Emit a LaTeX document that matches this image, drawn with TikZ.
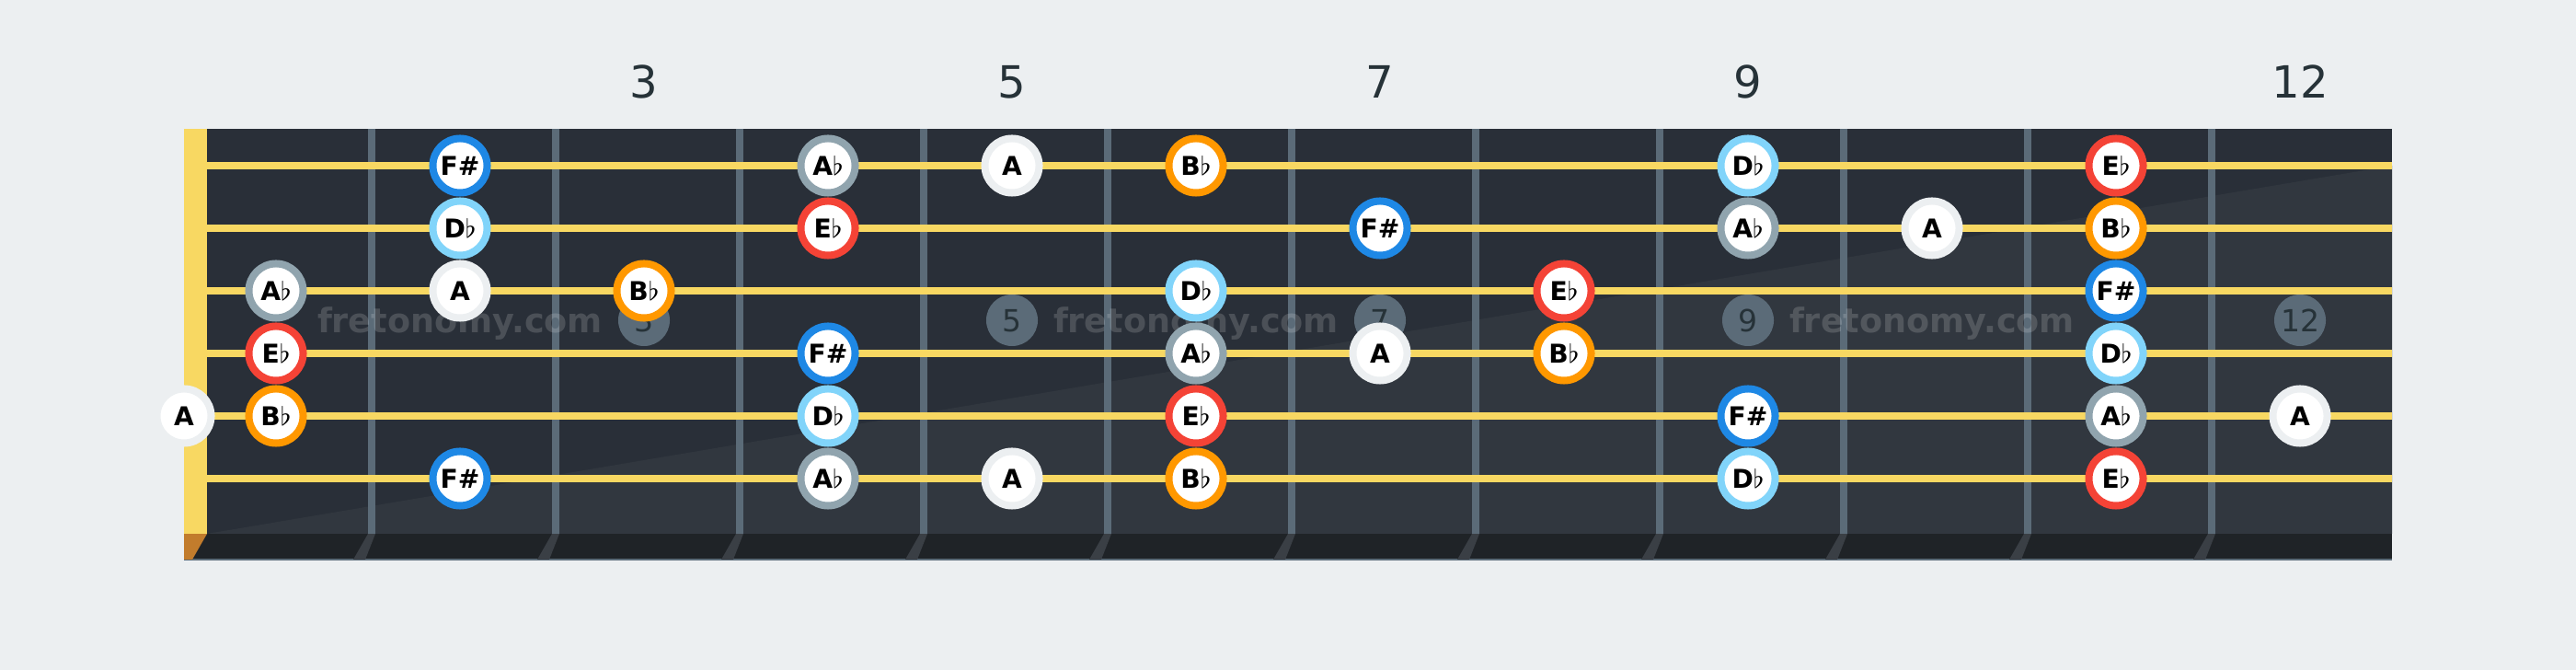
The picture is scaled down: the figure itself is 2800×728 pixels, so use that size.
\documentclass[tikz,border=0pt]{standalone}
\usepackage{fontspec}
\setmainfont{DejaVu Sans}
\usepackage{xcolor}

\definecolor{bg}{HTML}{ECEFF1}
\definecolor{board}{HTML}{292F38}
\definecolor{boardlight}{HTML}{31373F}
\definecolor{strip}{HTML}{1F2327}
\definecolor{fretwire}{HTML}{5B6B78}
\definecolor{fretshade}{HTML}{3A3F45}
\definecolor{nut}{HTML}{F8D862}
\definecolor{nutshade}{HTML}{C27C2C}
\definecolor{numdark}{HTML}{263238}
\definecolor{cfsharp}{HTML}{1E88E5}
\definecolor{cdflat}{HTML}{81D4FA}
\definecolor{caflat}{HTML}{90A4AE}
\definecolor{cnatA}{HTML}{ECEFF1}
\definecolor{cbflat}{HTML}{FF9800}
\definecolor{ceflat}{HTML}{F44336}

\newcommand{\fl}{\ensuremath{\flat}}

\begin{document}
\begin{tikzpicture}[x=0.01cm,y=-0.01cm,
  note/.style={circle,draw,line width=0.08cm,fill=white,minimum size=0.59cm,
    text height=5.8pt,text depth=0pt,font=\fontsize{8}{9}\selectfont\bfseries},
  fsharp/.style={note,draw=cfsharp},
  dflat/.style={note,draw=cdflat},
  aflat/.style={note,draw=caflat},
  natA/.style={note,draw=cnatA},
  bflat/.style={note,draw=cbflat},
  eflat/.style={note,draw=ceflat},
  marker/.style={circle,fill=fretwire,minimum size=0.56cm,text=numdark,
    text height=6.9pt,text depth=0pt,font=\fontsize{9.4}{10}\selectfont},
  fretnum/.style={anchor=base,text=numdark,font=\fontsize{13.7}{15}\selectfont},
  watermark/.style={anchor=base,text=white,text opacity=0.16,font=\fontsize{10.4}{12}\selectfont\bfseries}]
\tikzstyle{every node}+=[inner sep=0pt]
\useasboundingbox (0,0) rectangle (2800,728);
\fill [bg] (0,0) rectangle (2800,728);
% board
\fill [board] (200,140) rectangle (2600,580);
\fill [boardlight] (225,580) -- (2600,180) -- (2600,580) -- cycle;
\fill [strip] (200,580) rectangle (2600,608);
\fill [fretwire] (200,607) rectangle (2600,609);
% fret shadows on the edge
\fill [fretshade] (400,580) -- (408,580) -- (397,608) -- (384,608) -- cycle;
\fill [fretshade] (600,580) -- (608,580) -- (597,608) -- (584,608) -- cycle;
\fill [fretshade] (800,580) -- (808,580) -- (797,608) -- (784,608) -- cycle;
\fill [fretshade] (1000,580) -- (1008,580) -- (997,608) -- (984,608) -- cycle;
\fill [fretshade] (1200,580) -- (1208,580) -- (1197,608) -- (1184,608) -- cycle;
\fill [fretshade] (1400,580) -- (1408,580) -- (1397,608) -- (1384,608) -- cycle;
\fill [fretshade] (1600,580) -- (1608,580) -- (1597,608) -- (1584,608) -- cycle;
\fill [fretshade] (1800,580) -- (1808,580) -- (1797,608) -- (1784,608) -- cycle;
\fill [fretshade] (2000,580) -- (2008,580) -- (1997,608) -- (1984,608) -- cycle;
\fill [fretshade] (2200,580) -- (2208,580) -- (2197,608) -- (2184,608) -- cycle;
\fill [fretshade] (2400,580) -- (2408,580) -- (2397,608) -- (2384,608) -- cycle;
\fill [nutshade] (200,580) -- (225,580) -- (209,608) -- (200,608) -- cycle;
% nut and frets
\fill [nut] (200,140) rectangle (225,580);
\fill [fretwire] (400,140) rectangle (408,580);
\fill [fretwire] (600,140) rectangle (608,580);
\fill [fretwire] (800,140) rectangle (808,580);
\fill [fretwire] (1000,140) rectangle (1008,580);
\fill [fretwire] (1200,140) rectangle (1208,580);
\fill [fretwire] (1400,140) rectangle (1408,580);
\fill [fretwire] (1600,140) rectangle (1608,580);
\fill [fretwire] (1800,140) rectangle (1808,580);
\fill [fretwire] (2000,140) rectangle (2008,580);
\fill [fretwire] (2200,140) rectangle (2208,580);
\fill [fretwire] (2400,140) rectangle (2408,580);
% inlays
\node [marker] (m3) at (700,348) {3};
\node [marker] (m5) at (1100,348) {5};
\node [marker] (m7) at (1500,348) {7};
\node [marker] (m9) at (1900,348) {9};
\node [marker] (m12) at (2500,348) {12};
\node [watermark] (w1) at (500,362) {fretonomy.com};
\node [watermark] (w2) at (1300,362) {fretonomy.com};
\node [watermark] (w3) at (2100,362) {fretonomy.com};
% strings
\fill [nut] (225,176) rectangle (2600,184);
\fill [nut] (225,244) rectangle (2600,252);
\fill [nut] (225,312) rectangle (2600,320);
\fill [nut] (225,380) rectangle (2600,388);
\fill [nut] (225,448) rectangle (2600,456);
\fill [nut] (225,516) rectangle (2600,524);
% fret numbers
\node [fretnum] (t3) at (700,107) {3};
\node [fretnum] (t5) at (1100,107) {5};
\node [fretnum] (t7) at (1500,107) {7};
\node [fretnum] (t9) at (1900,107) {9};
\node [fretnum] (t12) at (2500,107) {12};
% string 1
\node [fsharp] (s1f2) at (500,180) {F\#};
\node [aflat] (s1f4) at (900,180) {A\fl};
\node [natA] (s1f5) at (1100,180) {A};
\node [bflat] (s1f6) at (1300,180) {B\fl};
\node [dflat] (s1f9) at (1900,180) {D\fl};
\node [eflat] (s1f11) at (2300,180) {E\fl};
% string 2
\node [dflat] (s2f2) at (500,248) {D\fl};
\node [eflat] (s2f4) at (900,248) {E\fl};
\node [fsharp] (s2f7) at (1500,248) {F\#};
\node [aflat] (s2f9) at (1900,248) {A\fl};
\node [natA] (s2f10) at (2100,248) {A};
\node [bflat] (s2f11) at (2300,248) {B\fl};
% string 3
\node [aflat] (s3f1) at (300,316) {A\fl};
\node [natA] (s3f2) at (500,316) {A};
\node [bflat] (s3f3) at (700,316) {B\fl};
\node [dflat] (s3f6) at (1300,316) {D\fl};
\node [eflat] (s3f8) at (1700,316) {E\fl};
\node [fsharp] (s3f11) at (2300,316) {F\#};
% string 4
\node [eflat] (s4f1) at (300,384) {E\fl};
\node [fsharp] (s4f4) at (900,384) {F\#};
\node [aflat] (s4f6) at (1300,384) {A\fl};
\node [natA] (s4f7) at (1500,384) {A};
\node [bflat] (s4f8) at (1700,384) {B\fl};
\node [dflat] (s4f11) at (2300,384) {D\fl};
% string 5
\node [natA] (s5f0) at (200,452) {A};
\node [bflat] (s5f1) at (300,452) {B\fl};
\node [dflat] (s5f4) at (900,452) {D\fl};
\node [eflat] (s5f6) at (1300,452) {E\fl};
\node [fsharp] (s5f9) at (1900,452) {F\#};
\node [aflat] (s5f11) at (2300,452) {A\fl};
\node [natA] (s5f12) at (2500,452) {A};
% string 6
\node [fsharp] (s6f2) at (500,520) {F\#};
\node [aflat] (s6f4) at (900,520) {A\fl};
\node [natA] (s6f5) at (1100,520) {A};
\node [bflat] (s6f6) at (1300,520) {B\fl};
\node [dflat] (s6f9) at (1900,520) {D\fl};
\node [eflat] (s6f11) at (2300,520) {E\fl};
\end{tikzpicture}
\end{document}
